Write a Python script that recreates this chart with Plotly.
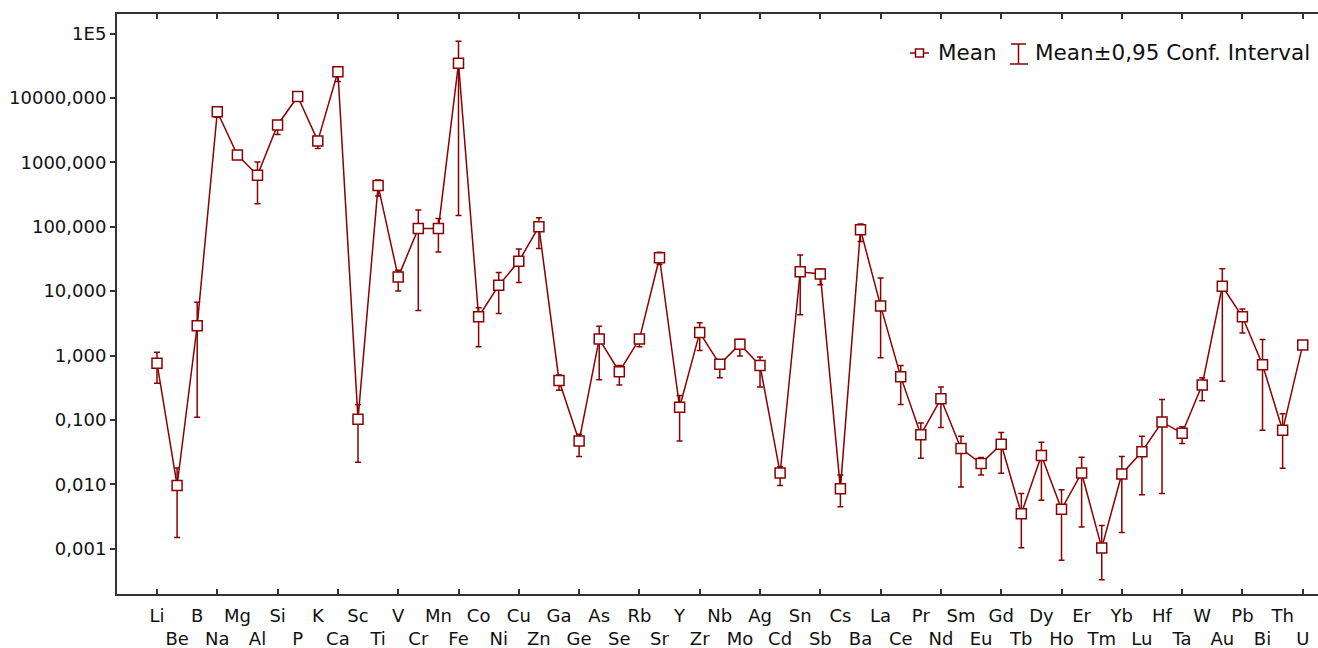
import plotly.graph_objects as go

elements = ["Li", "Be", "B", "Na", "Mg", "Al", "Si", "P", "K", "Ca",
            "Sc", "Ti", "V", "Cr", "Mn", "Fe", "Co", "Ni", "Cu", "Zn",
            "Ga", "Ge", "As", "Se", "Rb", "Sr", "Y", "Zr", "Nb", "Mo",
            "Ag", "Cd", "Sn", "Sb", "Cs", "Ba", "La", "Ce", "Pr", "Nd",
            "Sm", "Eu", "Gd", "Tb", "Dy", "Ho", "Er", "Tm", "Yb", "Lu",
            "Hf", "Ta", "W", "Au", "Pb", "Bi", "Th", "U"]

mean = [0.76, 0.0096, 2.9, 6100, 1295, 630, 3800, 10500, 2150, 25500,
        0.102, 435, 16.5, 94, 94, 34500, 4.0, 12.3, 29, 100,
        0.41, 0.047, 1.8, 0.56, 1.8, 33, 0.157, 2.27, 0.73, 1.5,
        0.70, 0.015, 20, 18.5, 0.0085, 90, 5.9, 0.47, 0.059, 0.213,
        0.036, 0.021, 0.042, 0.0035, 0.028, 0.0041, 0.015, 0.00103, 0.0145, 0.032,
        0.093, 0.062, 0.35, 11.9, 4.0, 0.72, 0.069, 1.46]

upper = [1.12, 0.018, 6.7, 6700, 1400, 1010, 4400, 11300, 2450, 29000,
         0.174, 530, 21, 182, 134, 76000, 5.5, 19.5, 45, 138,
         0.50, 0.060, 2.84, 0.70, 2.1, 40, 0.24, 3.24, 0.85, 1.78,
         0.95, 0.0187, 36.5, 22, 0.014, 110, 16, 0.70, 0.0895, 0.325,
         0.056, 0.026, 0.064, 0.0072, 0.045, 0.0082, 0.0264, 0.0023, 0.027, 0.056,
         0.207, 0.078, 0.45, 22.3, 5.3, 1.78, 0.125, 1.46]

lower = [0.37, 0.0015, 0.11, 5000, 1200, 228, 2700, 9800, 1640, 18000,
         0.022, 300, 10, 5.0, 40.5, 150, 1.37, 4.5, 13.6, 46,
         0.29, 0.027, 0.42, 0.35, 1.37, 26, 0.047, 1.2, 0.45, 0.98,
         0.325, 0.0096, 4.3, 12.6, 0.0045, 59, 0.92, 0.174, 0.0254, 0.076,
         0.0091, 0.0139, 0.0149, 0.00104, 0.00565, 0.00066, 0.00217, 0.00033, 0.00178, 0.0069,
         0.0072, 0.0431, 0.199, 0.40, 2.24, 0.069, 0.0177, 1.46]

ytick_vals = [1e-3, 1e-2, 1e-1, 1, 10, 100, 1000, 10000, 1e5]
ytick_text = ["0,001", "0,010", "0,100", "1,000", "10,000", "100,000",
              "1000,000", "10000,000", "1E5"]

legend_mean = "Mean"
legend_ci = "Mean±0,95 Conf. Interval"

RED = "#8b0000"
AX = "#333333"
FONT = "DejaVu Sans"

idx = list(range(len(elements)))
plus = [u - m for u, m in zip(upper, mean)]
minus = [m - l for m, l in zip(mean, lower)]
labels = [e if i % 2 == 0 else "<br>" + e for i, e in enumerate(elements)]

W, H = 1318, 648
L, R, T, B = 117, 0, 14, 54
pw, ph = W - L - R, H - T - B


def px(x):
    return (x - L) / pw


def py(y):
    return (H - B - y) / ph


fig = go.Figure()
fig.add_trace(go.Scatter(
    x=idx, y=mean, mode="lines+markers",
    line=dict(color=RED, width=1.5),
    marker=dict(symbol="square", size=10, color="white",
                line=dict(color=RED, width=1.5)),
    error_y=dict(type="data", symmetric=False, array=plus, arrayminus=minus,
                 color=RED, thickness=1.5, width=3),
    showlegend=False, hoverinfo="skip"))
fig.add_trace(go.Scatter(x=[0], y=[1], xaxis="x2", mode="markers",
                         marker=dict(opacity=0), showlegend=False,
                         hoverinfo="skip"))

xr = [-1.99, 57.76]
fig.update_layout(
    width=W, height=H, autosize=False,
    margin=dict(l=L, r=R, t=T, b=B, pad=0),
    paper_bgcolor="white", plot_bgcolor="white",
    font=dict(family=FONT, size=18, color="#111111"),
    xaxis=dict(range=xr, tickmode="array", tickvals=idx, ticktext=labels,
               tickangle=0, automargin=False,
               ticks="", showline=True, linecolor=AX, linewidth=2,
               mirror=True, showgrid=False, zeroline=False,
               tickfont=dict(family=FONT, size=18, color="#111111"),
               ticklabelstandoff=4),
    xaxis2=dict(range=xr, overlaying="x", anchor="y", side="bottom",
                tickmode="array", tickvals=list(range(0, len(elements), 3)),
                ticks="inside", ticklen=5, tickwidth=2, tickcolor=AX,
                showline=True, linecolor=AX, linewidth=2, mirror="ticks",
                showticklabels=False, showgrid=False, zeroline=False,
                automargin=False),
    yaxis=dict(type="log", range=[-3.703, 5.303], tickmode="array",
               tickvals=ytick_vals, ticktext=ytick_text, automargin=False,
               ticks="outside", ticklen=5, tickwidth=2, tickcolor=AX,
               showline=True, linecolor=AX, linewidth=2, mirror=False,
               showgrid=False, zeroline=False,
               tickfont=dict(family=FONT, size=18, color="#111111")),
)

# legend drawn manually (Statistica style)
shapes = [
    dict(type="line", xref="paper", yref="paper", x0=px(910), x1=px(929),
         y0=py(53), y1=py(53), line=dict(color=RED, width=1.5)),
    dict(type="rect", xref="paper", yref="paper", x0=px(915.5), x1=px(923.5),
         y0=py(49), y1=py(57), line=dict(color=RED, width=1.5),
         fillcolor="white"),
    dict(type="line", xref="paper", yref="paper", x0=px(1018.5), x1=px(1018.5),
         y0=py(44), y1=py(64), line=dict(color=RED, width=1.5)),
    dict(type="line", xref="paper", yref="paper", x0=px(1011), x1=px(1026),
         y0=py(44), y1=py(44), line=dict(color=RED, width=1.5)),
    dict(type="line", xref="paper", yref="paper", x0=px(1010), x1=px(1028),
         y0=py(64), y1=py(64), line=dict(color=RED, width=1.5)),
]
annotations = [
    dict(text=legend_mean, xref="paper", yref="paper", x=px(936), y=py(53),
         xanchor="left", yanchor="middle", showarrow=False,
         font=dict(family=FONT, size=21.5, color="#111111")),
    dict(text=legend_ci, xref="paper", yref="paper", x=px(1033), y=py(53),
         xanchor="left", yanchor="middle", showarrow=False,
         font=dict(family=FONT, size=21.5, color="#111111")),
]
fig.update_layout(shapes=shapes, annotations=annotations)

fig.write_html("out.html",
               config={"displayModeBar": False},
               post_script="document.body.style.margin='0px';"
                           "document.body.style.overflow='hidden';")
